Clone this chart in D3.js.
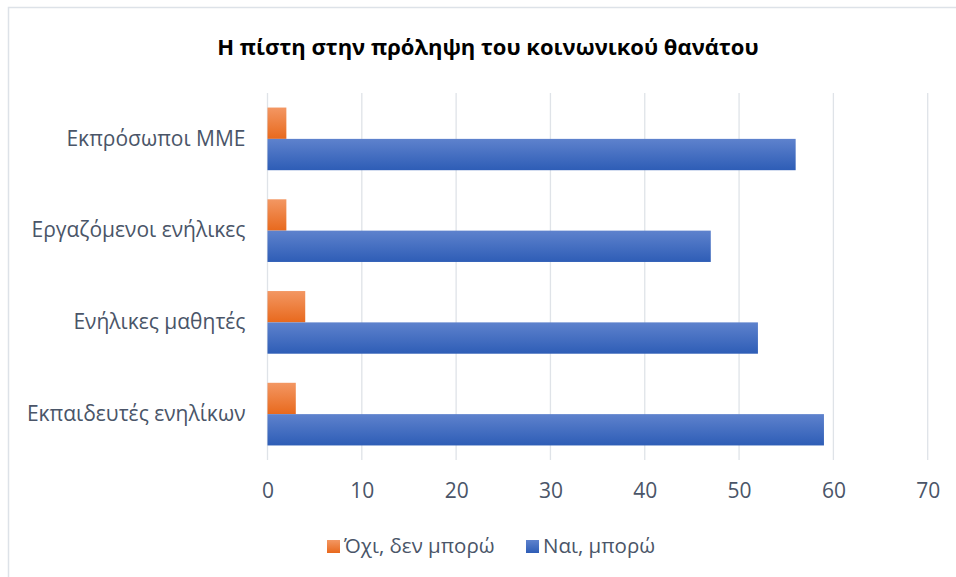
<!DOCTYPE html>
<html><head><meta charset="utf-8">
<script src="https://cdn.jsdelivr.net/npm/d3@7"></script>
<style>body{margin:0;background:#fff;}svg{display:block;}</style>
</head><body>
<svg id="c" width="956" height="577"></svg>
<script>
const title = "Η πίστη στην πρόληψη του κοινωνικού θανάτου";
const categories = ["Εκπρόσωποι ΜΜΕ", "Εργαζόμενοι ενήλικες", "Ενήλικες μαθητές", "Εκπαιδευτές ενηλίκων"];
const seriesNames = ["Όχι, δεν μπορώ", "Ναι, μπορώ"];
const noValues = [2, 2, 4, 3];
const yesValues = [56, 47, 52, 59];
const xTicks = [0, 10, 20, 30, 40, 50, 60, 70];

const svg = d3.select("#c");
const W = 956, H = 577;
const m = {left: 267.5, right: 956 - 927.7, top: 93, bottom: 577 - 460};
const font = "'Open Sans', 'Noto Sans', sans-serif";
const textCol = "#4a5568";

// gradients
const defs = svg.append("defs");
function grad(id, c1, c2) {
  const g = defs.append("linearGradient").attr("id", id).attr("x1", 0).attr("y1", 0).attr("x2", 0).attr("y2", 1);
  g.append("stop").attr("offset", "0%").attr("stop-color", c1);
  g.append("stop").attr("offset", "100%").attr("stop-color", c2);
}
grad("gOr", "#F39763", "#E8691D");
grad("gBl", "#5E82CD", "#2E5DB6");

// border
svg.append("path").attr("d", `M8.5,${H} L8.5,7.5 L${W},7.5`).attr("fill", "none").attr("stroke", "#dde2e8").attr("stroke-width", 1.5);

const x = d3.scaleLinear().domain([0, 70]).range([m.left, W - m.right]);
const y = d3.scaleBand().domain(categories).range([m.top, H - m.bottom]).paddingInner(0.317).paddingOuter(0.1585);
const sub = d3.scaleBand().domain(seriesNames).range([0, y.bandwidth()]);

// grid
svg.append("g").selectAll("line").data(xTicks).join("line")
  .attr("x1", d => x(d)).attr("x2", d => x(d))
  .attr("y1", m.top).attr("y2", H - m.bottom)
  .attr("stroke", "#dfe3e8").attr("stroke-width", 1.3);

// bars
const rows = categories.map((c, i) => ({c, no: noValues[i], yes: yesValues[i]}));
const g = svg.append("g");
g.selectAll("rect.no").data(rows).join("rect").attr("class", "no")
  .attr("x", x(0)).attr("y", d => y(d.c) + sub(seriesNames[0]))
  .attr("width", d => x(d.no) - x(0)).attr("height", sub.bandwidth())
  .attr("fill", "url(#gOr)");
g.selectAll("rect.yes").data(rows).join("rect").attr("class", "yes")
  .attr("x", x(0)).attr("y", d => y(d.c) + sub(seriesNames[1]))
  .attr("width", d => x(d.yes) - x(0)).attr("height", sub.bandwidth())
  .attr("fill", "url(#gBl)");

// x axis labels
const xAxis = d3.axisBottom(x).tickValues(xTicks).tickSize(0).tickPadding(23);
const xa = svg.append("g").attr("transform", `translate(0,${H - m.bottom})`).call(xAxis);
xa.select(".domain").remove();
xa.selectAll("text").attr("font-family", font).attr("font-size", 21).attr("fill", textCol);

// y axis labels
const yAxis = d3.axisLeft(y).tickSize(0).tickPadding(22);
const ya = svg.append("g").attr("transform", `translate(${m.left},0)`).call(yAxis);
ya.select(".domain").remove();
ya.selectAll("text").attr("font-family", font).attr("font-size", 21).attr("fill", textCol);

// title
svg.append("text").attr("x", 488).attr("y", 55).attr("text-anchor", "middle")
  .attr("font-family", font).attr("font-weight", "bold").attr("font-size", 22).attr("fill", "#000")
  .text(title);

// legend
const legendX = [327, 526];
const colors = ["url(#gOr)", "url(#gBl)"];
const lg = svg.append("g");
seriesNames.forEach((s, i) => {
  lg.append("rect").attr("x", legendX[i]).attr("y", 540).attr("width", 13).attr("height", 13).attr("fill", colors[i]);
  lg.append("text").attr("x", legendX[i] + 17).attr("y", 553).attr("font-family", font).attr("font-size", 20.5)
    .attr("fill", textCol).text(s);
});
</script>
</body></html>
